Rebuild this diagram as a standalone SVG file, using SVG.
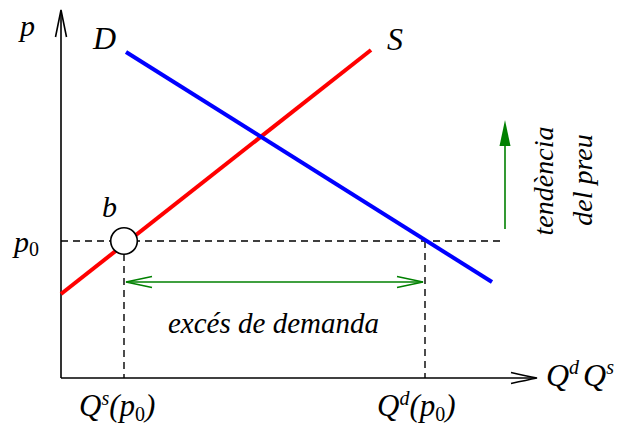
<svg xmlns="http://www.w3.org/2000/svg" width="631" height="435" viewBox="0 0 631 435">
<defs>
<style>
text{font-family:'Liberation Serif','DejaVu Serif',serif;font-style:italic;fill:#000}
.u{font-style:normal}
.ax{stroke:#000;stroke-width:1.6;fill:none}
.dash{stroke:#000;stroke-width:1.4;stroke-dasharray:7 5;fill:none}
.g{stroke:#008000;stroke-width:1.6;fill:none}
</style>
</defs>
<rect width="631" height="435" fill="#fff"/>
<g id="axes">
<path class="ax" d="M61,378 V11"/>
<path class="ax" d="M55.5,37 Q59,20 61,10 Q63,20 66.5,37"/>
<path class="ax" d="M61,378 H536"/>
<path class="ax" d="M511,372.5 Q527,376 537,378 Q527,380 511,383.5"/>
</g>
<g id="connectors">
<path class="dash" d="M61,241 H500"/>
<path class="dash" d="M124,254 V378"/>
<path class="dash" d="M425,241 V378"/>
<path class="g" d="M126,282 H423"/>
<path class="g" d="M152,276.5 L126,282 L152,287.5"/>
<path class="g" d="M397,276.5 L423,282 L397,287.5"/>
<path class="g" d="M505,229 V140"/>
<polygon points="505,120 499.5,146 510.5,146" fill="#008000"/>
</g>
<g id="supply">
<path d="M61,294 L371,50" stroke="#ff0000" stroke-width="4" fill="none"/>
</g>
<g id="demand">
<path d="M126,52 L492,282" stroke="#0000ff" stroke-width="4" fill="none"/>
</g>
<g id="point-b">
<circle cx="124" cy="241" r="13.3" fill="#fff" stroke="#000" stroke-width="1.6"/>
</g>
<g id="labels" font-family="Liberation Serif, DejaVu Serif, serif" font-style="italic">
<text x="20" y="36" font-size="30">p</text>
<text x="93" y="49" font-size="32">D</text>
<text x="387" y="50" font-size="32">S</text>
<text x="102" y="217" font-size="30">b</text>
<text x="14" y="252" font-size="30">p<tspan class="u" font-size="20" dy="4">0</tspan></text>
<text x="168" y="333" font-size="29">excés de demanda</text>
<text x="79" y="416" font-size="31">Q<tspan font-size="20" dy="-11">s</tspan><tspan dy="11">(p</tspan><tspan class="u" font-size="20" dy="5">0</tspan><tspan dy="-5">)</tspan></text>
<text x="377" y="416" font-size="31">Q<tspan font-size="20" dy="-11">d</tspan><tspan dy="11">(p</tspan><tspan class="u" font-size="20" dy="5">0</tspan><tspan dy="-5">)</tspan></text>
<text x="546" y="386" font-size="32">Q<tspan font-size="20" dy="-12">d</tspan><tspan font-size="32" dx="4" dy="12">Q</tspan><tspan font-size="20" dy="-12">s</tspan></text>
<text font-size="28" text-anchor="middle" transform="translate(553,181) rotate(-90)">tendència</text>
<text font-size="28" text-anchor="middle" transform="translate(592,180) rotate(-90)">del preu</text>
</g>
</svg>
